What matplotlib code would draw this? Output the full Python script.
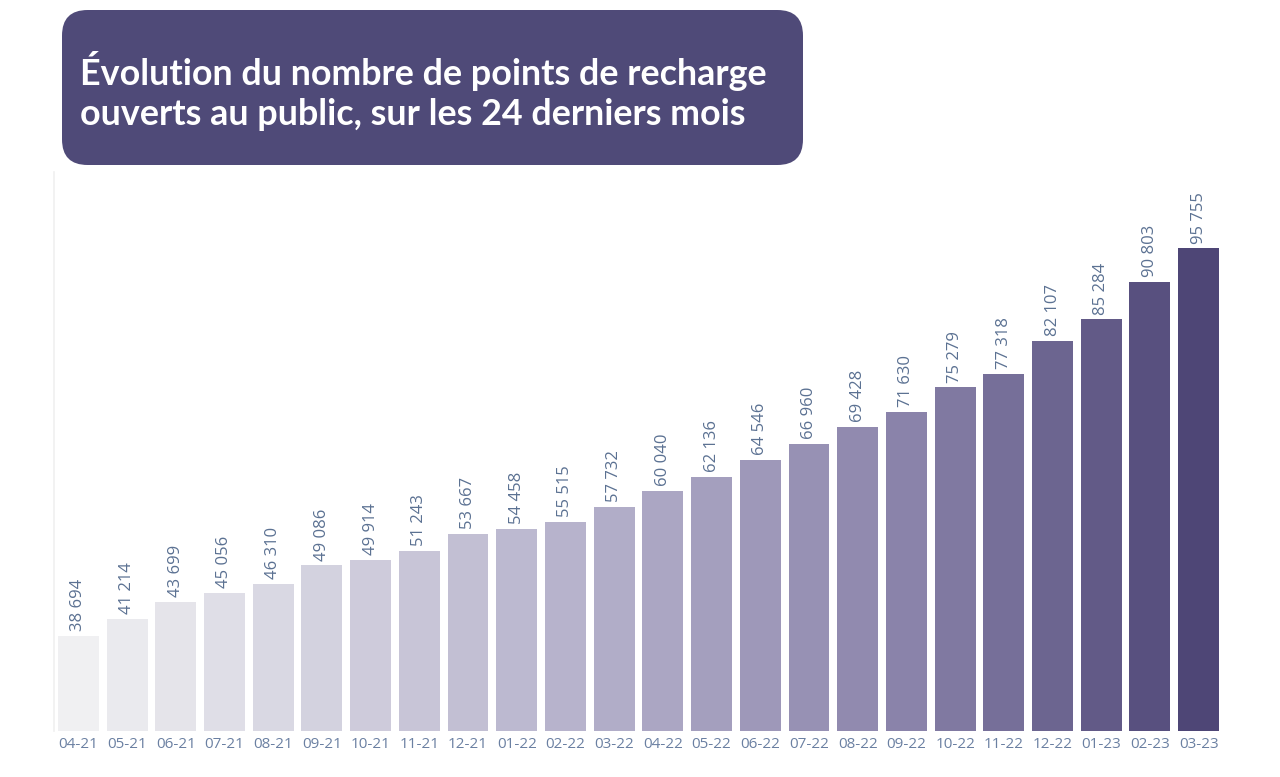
import matplotlib
matplotlib.use("Agg")
import matplotlib.pyplot as plt
from matplotlib.patches import FancyBboxPatch
from matplotlib.colors import to_rgb
import numpy as np

months = ["04-21", "05-21", "06-21", "07-21", "08-21", "09-21", "10-21", "11-21",
          "12-21", "01-22", "02-22", "03-22", "04-22", "05-22", "06-22", "07-22",
          "08-22", "09-22", "10-22", "11-22", "12-22", "01-23", "02-23", "03-23"]
points = [38694, 41214, 43699, 45056, 46310, 49086, 49914, 51243,
          53667, 54458, 55515, 57732, 60040, 62136, 64546, 66960,
          69428, 71630, 75279, 77318, 82107, 85284, 90803, 95755]
title = "Évolution du nombre de points de recharge\nouverts au public, sur les 24 derniers mois"

W, H = 1280, 777
fig = plt.figure(figsize=(W / 100, H / 100), dpi=100)
fig.patch.set_facecolor("white")

ax_left, ax_right, ax_top, ax_bottom = 54, 1223, 172, 731
ax = fig.add_axes([ax_left / W, 1 - ax_bottom / H, (ax_right - ax_left) / W, (ax_bottom - ax_top) / H])

n = len(points)
anchor_pos = [0, 11, 17, 23]
anchor_col = [to_rgb(c) for c in ["#f0f0f2", "#b1adc8", "#8a83aa", "#4e4676"]]
colors = []
for i in range(n):
    colors.append(tuple(np.interp(i, anchor_pos, [c[k] for c in anchor_col]) for k in range(3)))

x = np.arange(n)
ax.bar(x, points, width=0.84, color=colors, zorder=2)
ax.set_xlim(-0.5, n - 0.5)
ax.set_ylim(24700, 107000)

label_color = "#5b7192"
for xi, v in zip(x, points):
    s = f"{v:,}".replace(",", " ")
    ax.annotate(s, (xi, v), xytext=(0, 3.5), textcoords="offset points",
                rotation=90, ha="center", va="bottom", fontsize=12,
                color=label_color, family="Open Sans")

ax.set_xticks(x)
ax.set_xticklabels(months, fontsize=11, color="#6b80a2", family="Open Sans")
ax.tick_params(axis="x", length=0, pad=4)
ax.set_yticks([])
for sp in ["top", "right", "bottom"]:
    ax.spines[sp].set_visible(False)
ax.spines["left"].set_color("#f0f0f0")
ax.spines["left"].set_linewidth(1.2)

bx0, bx1, by0, by1 = 62, 803, 10, 165
box = FancyBboxPatch((bx0 / W, 1 - by1 / H), (bx1 - bx0) / W, (by1 - by0) / H,
                     boxstyle="round,pad=0,rounding_size=0.02",
                     transform=fig.transFigure, facecolor="#4f4a78",
                     edgecolor="none", mutation_aspect=W / H)
fig.patches.append(box)
fig.text(80 / W, 1 - 91 / H, title, color="white", fontsize=25.8, fontweight="bold",
         family="Lato", ha="left", va="center", linespacing=1.27)

fig.savefig("out.png", dpi=100, facecolor="white")
